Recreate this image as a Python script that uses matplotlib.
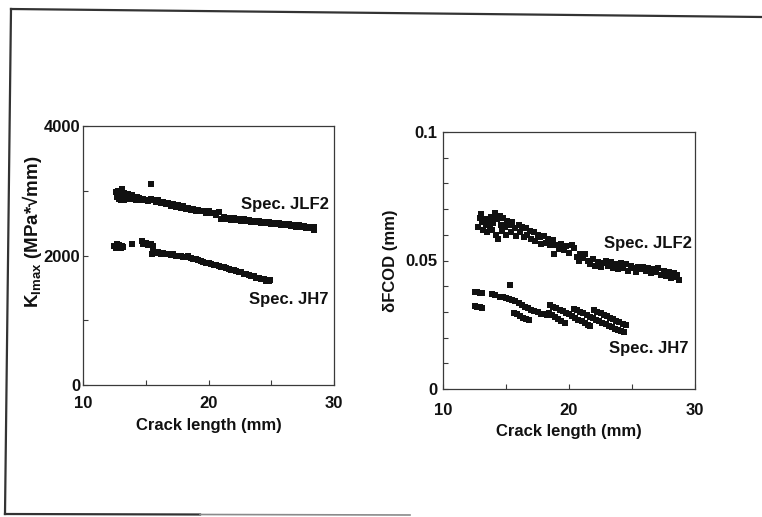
import matplotlib
matplotlib.use("Agg")
import matplotlib.pyplot as plt
from matplotlib.lines import Line2D
from matplotlib.ticker import FixedLocator, FixedFormatter

plt.rcParams['font.family'] = ['Liberation Sans', 'DejaVu Sans']
plt.rcParams['font.weight'] = 'bold'
plt.rcParams['axes.labelweight'] = 'bold'
plt.rcParams['mathtext.fontset'] = 'custom'
plt.rcParams['mathtext.rm'] = 'Liberation Sans:bold'
plt.rcParams['mathtext.bf'] = 'Liberation Sans:bold'

# ---------------- data ----------------
x_ticks = [10, 20, 30]
x_tick_labels = ["10", "20", "30"]
k_ticks = [0, 2000, 4000]
k_tick_labels = ["0", "2000", "4000"]
d_ticks = [0, 0.05, 0.1]
d_tick_labels = ["0", "0.05", "0.1"]

# Left panel: Kmax vs crack length, Spec. JLF2
k_jlf2_x = [12.6, 12.7, 12.8, 12.9, 13.0, 13.0, 13.1, 13.2, 13.3, 13.3, 13.4, 13.5, 13.6, 13.7,
            13.8, 13.9, 14.0, 14.1, 14.2, 14.3, 14.4, 14.5, 14.6, 14.8, 15.0, 15.2, 15.4, 15.4,
            15.6, 15.8, 16.0, 16.2, 16.4, 16.6, 16.8, 17.0, 17.2, 17.4, 17.6, 17.8, 18.0, 18.2,
            18.4, 18.6, 18.8, 19.0, 19.2, 19.4, 19.6, 19.8, 20.0, 20.2, 20.4, 20.6, 20.8,
            21.0, 21.2, 21.4, 21.6, 21.8, 22.0, 22.2, 22.4, 22.6, 22.8, 23.0, 23.2, 23.4, 23.6,
            23.8, 24.0, 24.2, 24.4, 24.6, 24.8, 25.0, 25.2, 25.4, 25.6, 25.8, 26.0, 26.2, 26.4,
            26.6, 26.8, 27.0, 27.2, 27.4, 27.6, 27.8, 28.0, 28.2, 28.4, 28.4]
k_jlf2_y = [2980, 2900, 3000, 2870, 2940, 2860, 3020, 2900, 2960, 2850, 2920, 2880, 2950, 2900,
            2870, 2930, 2880, 2900, 2860, 2910, 2870, 2890, 2850, 2880, 2860, 2840, 2870, 3110,
            2860, 2820, 2850, 2810, 2830, 2790, 2810, 2770, 2790, 2750, 2780, 2740, 2760, 2720,
            2740, 2710, 2720, 2690, 2710, 2680, 2690, 2660, 2680, 2650, 2660, 2630, 2670,
            2560, 2590, 2560, 2580, 2550, 2575, 2545, 2565, 2540, 2560, 2530, 2550, 2520, 2540,
            2515, 2530, 2505, 2525, 2495, 2515, 2490, 2505, 2480, 2500, 2470, 2490, 2465, 2480,
            2455, 2470, 2445, 2465, 2440, 2455, 2430, 2445, 2420, 2440, 2400]

# Left panel: Kmax vs crack length, Spec. JH7
k_jh7_x = [12.5, 12.6, 12.7, 12.8, 12.9, 13.0, 13.1, 13.2, 13.9, 14.7, 14.8, 15.0, 15.2, 15.4,
           15.6, 15.5, 15.6, 15.8, 16.0, 16.2, 16.4, 16.6, 16.8, 17.0, 17.2, 17.4, 17.6, 17.8,
           18.0, 18.2, 18.4, 18.6, 18.8, 19.0, 19.2, 19.4, 19.6, 19.8, 20.0, 20.2, 20.4, 20.6,
           20.8, 21.0, 21.2, 21.4, 21.6, 21.8, 22.0, 22.2, 22.4, 22.6, 22.8, 23.0, 23.2, 23.4,
           23.6, 23.8, 24.0, 24.2, 24.4, 24.6, 24.8, 24.9]
k_jh7_y = [2150, 2120, 2170, 2130, 2160, 2120, 2150, 2130, 2170, 2220, 2180, 2190, 2160, 2170,
           2150, 2030, 2060, 2040, 2050, 2030, 2040, 2020, 2030, 2010, 2020, 2000, 1990, 2000,
           1980, 1970, 1990, 1960, 1950, 1940, 1930, 1920, 1900, 1890, 1880, 1870, 1860, 1850,
           1840, 1830, 1820, 1810, 1790, 1780, 1770, 1760, 1750, 1740, 1720, 1710, 1700, 1690,
           1680, 1660, 1650, 1640, 1630, 1610, 1600, 1620]

# Right panel: delta FCOD vs crack length, Spec. JLF2
d_jlf2_x = [12.8, 12.9, 13.0, 13.1, 13.2, 13.3, 13.4, 13.5, 13.6, 13.7, 13.8, 13.9, 14.0, 14.1,
            14.2, 14.3, 14.4, 14.5, 14.6, 14.7, 14.8, 14.9, 15.0, 15.1, 15.2, 15.4, 15.5, 15.7,
            15.8, 16.0, 16.1, 16.3, 16.4, 16.6, 16.7, 16.9, 17.0, 17.2, 17.3, 17.5, 17.7, 17.8,
            18.0, 18.2, 18.3, 18.5, 18.7, 18.8, 19.0, 19.2, 19.4, 19.6, 19.8, 20.0, 20.2, 20.4,
            20.6, 20.8, 20.9, 21.1, 21.3, 21.5, 21.7, 21.9, 22.1, 22.3, 22.5, 22.7, 22.9, 23.1,
            23.3, 23.5, 23.7, 23.9, 24.1, 24.3, 24.5, 24.7, 24.9, 25.1, 25.3, 25.5, 25.7, 25.9,
            26.1, 26.3, 26.5, 26.7, 26.9, 27.1, 27.3, 27.5, 27.7, 27.9, 28.1, 28.3, 28.5, 28.6, 28.7]
d_jlf2_y = [0.0630, 0.0665, 0.0680, 0.0650, 0.0620, 0.0660, 0.0640, 0.0610, 0.0655, 0.0635,
            0.0670, 0.0620, 0.0645, 0.0685, 0.0600, 0.0660, 0.0585, 0.0675, 0.0640, 0.0615,
            0.0665, 0.0630, 0.0600, 0.0655, 0.0640, 0.0610, 0.0650, 0.0625, 0.0595, 0.0640,
            0.0610, 0.0630, 0.0590, 0.0625, 0.0600, 0.0615, 0.0585, 0.0610, 0.0575, 0.0600,
            0.0590, 0.0565, 0.0595, 0.0570, 0.0585, 0.0560, 0.0580, 0.0525, 0.0560, 0.0545,
            0.0565, 0.0540, 0.0555, 0.0530, 0.0560, 0.0550, 0.0515, 0.0500, 0.0525, 0.0510,
            0.0525, 0.0500, 0.0485, 0.0505, 0.0480, 0.0495, 0.0475, 0.0490, 0.0500, 0.0480,
            0.0495, 0.0470, 0.0485, 0.0465, 0.0490, 0.0470, 0.0485, 0.0460, 0.0480, 0.0470,
            0.0455, 0.0475, 0.0465, 0.0475, 0.0460, 0.0470, 0.0450, 0.0465, 0.0455, 0.0470,
            0.0445, 0.0460, 0.0440, 0.0455, 0.0430, 0.0450, 0.0435, 0.0445, 0.0425]

# Right panel: delta FCOD vs crack length, Spec. JH7
d_jh7_x = [12.5, 12.7, 12.9, 13.1, 13.9, 14.1,
           12.5, 12.7, 12.9, 13.1,
           15.3,
           14.5, 14.75, 15.0, 15.25, 15.5, 15.75, 16.0, 16.25, 16.5, 16.75, 17.0, 17.25, 17.5,
           17.75, 18.0, 18.25,
           15.6, 15.85, 16.1, 16.35, 16.6, 16.85,
           18.4, 18.65, 18.9, 19.15, 19.4, 19.65,
           18.5, 18.75, 19.0, 19.25, 19.5, 19.75, 20.0, 20.25, 20.5, 20.75, 21.0, 21.25, 21.5, 21.7,
           20.4, 20.65, 20.9, 21.15, 21.4, 21.65, 21.9, 22.15, 22.4, 22.65, 22.9, 23.15, 23.4,
           23.65, 23.9, 24.15, 24.4,
           22.0, 22.25, 22.5, 22.75, 23.0, 23.25, 23.5, 23.75, 24.0, 24.25, 24.5]
d_jh7_y = [0.0378, 0.0377, 0.0375, 0.0372, 0.0368, 0.0366,
           0.0322, 0.0320, 0.0318, 0.0316,
           0.0405,
           0.0358, 0.0357, 0.0355, 0.0352, 0.0348, 0.0342, 0.0335, 0.0328, 0.0321, 0.0315, 0.0309,
           0.0303, 0.0298, 0.0293, 0.0290, 0.0288,
           0.0296, 0.0290, 0.0284, 0.0278, 0.0273, 0.0268,
           0.0296, 0.0289, 0.0280, 0.0272, 0.0264, 0.0257,
           0.0327, 0.0320, 0.0314, 0.0308, 0.0302, 0.0296, 0.0290, 0.0283, 0.0277, 0.0270, 0.0264,
           0.0257, 0.0250, 0.0244,
           0.0312, 0.0306, 0.0300, 0.0294, 0.0288, 0.0282, 0.0276, 0.0270, 0.0264, 0.0258, 0.0252,
           0.0246, 0.0240, 0.0234, 0.0228, 0.0224, 0.0221,
           0.0307, 0.0301, 0.0295, 0.0289, 0.0283, 0.0277, 0.0271, 0.0265, 0.0259, 0.0254, 0.0250]

# ---------------- figure ----------------
W, H = 762, 517
fig = plt.figure(figsize=(W / 100, H / 100), dpi=100)

def frac_rect(x0, y0, x1, y1):
    return [x0 / W, 1 - y1 / H, (x1 - x0) / W, (y1 - y0) / H]

axL = fig.add_axes(frac_rect(83, 126, 334, 385))
axR = fig.add_axes(frac_rect(443, 132, 695, 389))

ink = '#111111'
spine_c = '#3a3a3a'
FS_TICK = 12
FS_LAB = 12
MS = 4.0

for ax in (axL, axR):
    for s in ax.spines.values():
        s.set_color(spine_c)
        s.set_linewidth(0.9)
    ax.set_xlim(10, 30)
    ax.xaxis.set_major_locator(FixedLocator(x_ticks))
    ax.xaxis.set_major_formatter(FixedFormatter(x_tick_labels))
    ax.xaxis.set_minor_locator(FixedLocator([15, 25]))
    ax.tick_params(which='both', direction='in', length=3.5, width=0.8, color=spine_c,
                   top=False, right=False, labelsize=FS_TICK, labelcolor=ink)
    ax.tick_params(axis='x', which='major', pad=8)

# left panel
axL.plot(k_jlf2_x, k_jlf2_y, ls='none', marker='s', ms=MS, mew=0, color=ink)
axL.plot(k_jh7_x, k_jh7_y, ls='none', marker='s', ms=MS, mew=0, color=ink)
axL.set_ylim(0, 4000)
axL.yaxis.set_major_locator(FixedLocator(k_ticks))
axL.yaxis.set_major_formatter(FixedFormatter(k_tick_labels))
axL.yaxis.set_minor_locator(FixedLocator([1000, 3000]))
axL.tick_params(axis='y', which='major', pad=2)
axL.set_xlabel("Crack length (mm)", fontsize=FS_LAB, color=ink, va='center', fontweight='bold')
axL.xaxis.set_label_coords(0.5, -0.155)
axL.set_ylabel(r"K$_{\mathrm{Imax}}$ (MPa*√mm)", fontsize=13.5, color=ink, va='center',
               fontweight='bold')
axL.yaxis.set_label_coords(-0.205, 0.59)
axL.text(22.6, 2780, "Spec. JLF2", fontsize=FS_LAB, color=ink, va='center', ha='left')
axL.text(23.2, 1313, "Spec. JH7", fontsize=FS_LAB, color=ink, va='center', ha='left')

# right panel
axR.plot(d_jlf2_x, d_jlf2_y, ls='none', marker='s', ms=MS, mew=0, color=ink)
axR.plot(d_jh7_x, d_jh7_y, ls='none', marker='s', ms=MS, mew=0, color=ink)
axR.set_ylim(0, 0.1)
axR.yaxis.set_major_locator(FixedLocator(d_ticks))
axR.yaxis.set_major_formatter(FixedFormatter(d_tick_labels))
axR.yaxis.set_minor_locator(FixedLocator([0.01, 0.02, 0.03, 0.04, 0.06, 0.07, 0.08, 0.09]))
axR.tick_params(axis='y', which='major', pad=4)
axR.tick_params(axis='x', which='major', pad=10)
axR.set_xlabel("Crack length (mm)", fontsize=FS_LAB, color=ink, va='center', fontweight='bold')
axR.xaxis.set_label_coords(0.5, -0.167)
axR.set_ylabel("δFCOD (mm)", fontsize=FS_LAB, color=ink, va='center', fontweight='bold')
axR.yaxis.set_label_coords(-0.21, 0.5)
axR.text(22.75, 0.0568, "Spec. JLF2", fontsize=FS_LAB, color=ink, va='center', ha='left')
axR.text(23.2, 0.0156, "Spec. JH7", fontsize=FS_LAB, color=ink, va='center', ha='left')

# outer frame (scanned page border)
def fl(xa, ya, xb, yb, c='#333333', lw=1.6):
    fig.add_artist(Line2D([xa / W, xb / W], [1 - ya / H, 1 - yb / H], color=c, lw=lw))

fl(11, 9, 762, 17)
fl(11, 9, 5, 514)
fl(5, 514, 200, 514.5)
fl(200, 514.5, 410, 515, c='#8a8a8a', lw=1.2)

fig.savefig("out.png", dpi=100, facecolor='white')
